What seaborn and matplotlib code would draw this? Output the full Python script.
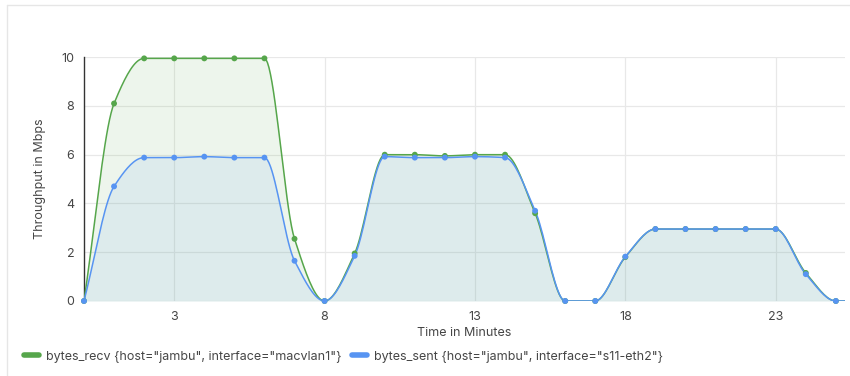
import numpy as np
import pandas as pd
import matplotlib
matplotlib.use("Agg")
import matplotlib.pyplot as plt
import seaborn as sns
from matplotlib.lines import Line2D

# --- data ---
minutes = list(range(0, 27))
bytes_recv = [0, 8.1, 9.95, 9.95, 9.95, 9.95, 9.95, 2.55, 0, 1.95,
              6.0, 6.0, 5.95, 6.0, 6.0, 3.6, 0, 0, 1.8, 2.95,
              2.95, 2.95, 2.95, 2.95, 1.15, 0, 0]
bytes_sent = [0, 4.7, 5.88, 5.88, 5.92, 5.88, 5.88, 1.65, 0, 1.85,
              5.92, 5.88, 5.88, 5.92, 5.88, 3.7, 0, 0, 1.82, 2.95,
              2.95, 2.95, 2.95, 2.95, 1.1, 0, 0]
series_names = ['bytes_recv {host="jambu", interface="macvlan1"}',
                'bytes_sent {host="jambu", interface="s11-eth2"}']
x_ticks = [3, 8, 13, 18, 23]
y_ticks = [0, 2, 4, 6, 8, 10]

GREEN = "#56A64B"
BLUE = "#5794F2"
TXT = "#464646"


def monotone_curve(x, y, n=20):
    """Monotone cubic (Fritsch-Carlson) curve through the points, only for drawing."""
    x = np.asarray(x, float)
    y = np.asarray(y, float)
    h = np.diff(x)
    d = np.diff(y) / h
    m = np.zeros_like(y)
    m[0], m[-1] = d[0], d[-1]
    for i in range(1, len(y) - 1):
        if d[i - 1] * d[i] <= 0:
            m[i] = 0
        else:
            w1 = 2 * h[i] + h[i - 1]
            w2 = h[i] + 2 * h[i - 1]
            m[i] = (w1 + w2) / (w1 / d[i - 1] + w2 / d[i])
    xs, ys = [], []
    for i in range(len(x) - 1):
        t = np.linspace(0, 1, n, endpoint=False)
        h00 = 2 * t**3 - 3 * t**2 + 1
        h10 = t**3 - 2 * t**2 + t
        h01 = -2 * t**3 + 3 * t**2
        h11 = t**3 - t**2
        xs.append(x[i] + t * h[i])
        ys.append(h00 * y[i] + h10 * h[i] * m[i] + h01 * y[i + 1] + h11 * h[i] * m[i + 1])
    xs.append([x[-1]])
    ys.append([y[-1]])
    return np.concatenate(xs), np.concatenate(ys)


df = pd.DataFrame({
    "minute": minutes * 2,
    "value": bytes_recv + bytes_sent,
    "series": [series_names[0]] * len(minutes) + [series_names[1]] * len(minutes),
})
df_vis = df[df["minute"] <= 25]

sns.set_theme(style="white")
plt.rcParams['font.family'] = ['Inter', 'DejaVu Sans']

fig = plt.figure(figsize=(8.5, 3.76), dpi=100)
ax = fig.add_axes([0.0988, 0.1995, 0.8952, 0.6485])

for vals, col in [(bytes_recv, GREEN), (bytes_sent, BLUE)]:
    cx, cy = monotone_curve(minutes, vals)
    ax.fill_between(cx, 0, cy, color=col, alpha=0.1, lw=0, zorder=2)
    ax.plot(cx, cy, color=col, lw=1.1, zorder=3)

sns.scatterplot(data=df_vis, x="minute", y="value", hue="series",
                palette=[GREEN, BLUE], s=18, edgecolor="none",
                legend=False, ax=ax, zorder=4, clip_on=False)

ax.set_xlim(0, 25.3)
ax.set_ylim(0, 10)
ax.set_xticks(x_ticks)
ax.set_yticks(y_ticks)
ax.grid(True, color="#e8e8e8", lw=0.9, zorder=0)
ax.set_axisbelow(True)
for s in ["top", "right", "bottom"]:
    ax.spines[s].set_visible(False)
ax.spines["left"].set_color("#333333")
ax.spines["left"].set_linewidth(1.0)
ax.tick_params(axis="y", length=4, width=0.8, color="#333333", labelsize=9, labelcolor=TXT, pad=3)
ax.tick_params(axis="x", length=5, width=0.9, color="#e8e8e8", labelsize=9, labelcolor=TXT, pad=2)
ax.set_xlabel("Time in Minutes", fontsize=9, color=TXT, labelpad=3)
ax.set_ylabel("Throughput in Mbps", fontsize=9, color=TXT, labelpad=11)

# panel border lines
fig.add_artist(Line2D([7 / 850, 7 / 850], [0, 1 - 5 / 376], color="#e6e6e6", lw=1))
fig.add_artist(Line2D([7 / 850, 1], [1 - 5 / 376, 1 - 5 / 376], color="#e6e6e6", lw=1))

handles = [Line2D([0], [0], color=GREEN, lw=4, solid_capstyle="round"),
           Line2D([0], [0], color=BLUE, lw=4, solid_capstyle="round")]
fig.legend(handles, series_names, loc="lower left", bbox_to_anchor=(0.015, 0.005),
           ncol=2, frameon=False, fontsize=9, handlelength=1.2, handletextpad=0.6,
           columnspacing=0.8, labelcolor=TXT)

fig.savefig("out.png", dpi=100)
